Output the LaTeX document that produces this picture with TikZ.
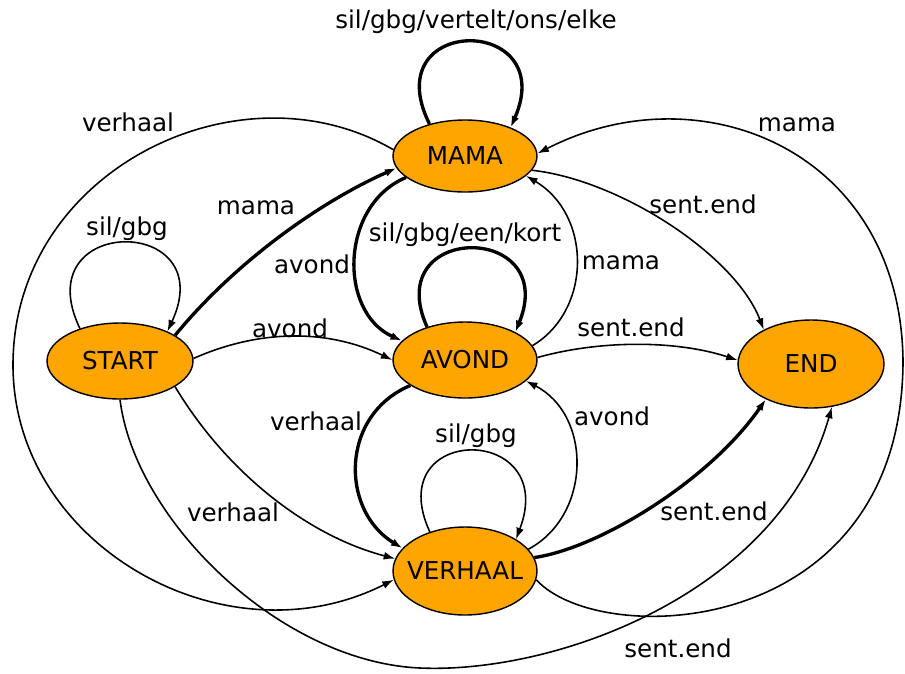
\documentclass[tikz,border=0pt]{standalone}
\usepackage{fontspec}
\setmainfont{DejaVu Sans}
\usetikzlibrary{arrows.meta, shapes.geometric}
\definecolor{c1}{HTML}{000000}
\definecolor{c2}{HTML}{FFA500}

\begin{document}
\begin{tikzpicture}[
    x=0.02cm, y=-0.02cm,
    every node/.style={font=\fontsize{14}{16}\selectfont},
    st/.style={ellipse, draw=c1, line width=0.8pt, fill=c2, inner xsep=-5pt,
        inner ysep=0pt, minimum width=2.88cm, minimum height=1.52cm},
    lab/.style={text=c1, inner sep=1pt},
    lnk/.style={draw=c1, line width=0.9pt, -{Latex[length=6.5pt, width=4.5pt]}},
    lnkb/.style={lnk, line width=1.9pt},
]
\useasboundingbox (0,0) rectangle (905,673);

% ---------------------------------------------------------------- states
\node[st, minimum height=1.44cm] (mama) at (465,156) {MAMA};
\node[st, minimum width=2.92cm] (start) at (120,361) {START};
\node[st] (avond) at (465,360) {AVOND};
\node[st, minimum width=2.92cm, minimum height=1.76cm] (einde) at (811,364) {END};
\node[st, minimum height=1.76cm] (verhaal) at (465,571) {VERHAAL};

% ---------------------------------------------------------------- self loops
\draw[lnkb] (mama.138) .. controls (375,14) and (560,14) .. (mama.32);
\draw[lnk] (start.141) .. controls (25,214) and (222,214) .. (start.32);
\draw[lnkb] (avond.139) .. controls (380,222) and (560,222) .. (avond.29);
\draw[lnk] (verhaal.132) .. controls (380,423) and (560,423) .. (verhaal.32);

\node[lab] (lmm) at (476,22) {sil/gbg/vertelt/ons/elke};
\node[lab] (lss) at (127,229) {sil/gbg};
\node[lab] (laa) at (465,235) {sil/gbg/een/kort};
\node[lab] (lvv) at (476,436) {sil/gbg};

% ---------------------------------------------------------------- from START
\draw[lnkb] (start.25) .. controls (237,260) and (322,201) .. (mama.190);
\draw[lnk] (start.2) .. controls (260,329) and (328,329) .. (avond.180);
\draw[lnk] (start.335) .. controls (225,470) and (305,535) .. (verhaal.170);
\draw[lnk] (start.270) .. controls (135,520) and (280,662) .. (420,668)
    .. controls (560,674) and (780,590) .. (einde.296);

\node[lab] (lsm) at (256,208) {mama};
\node[lab] (lsa) at (290,328) {avond};
\node[lab] (lsv) at (233,512) {verhaal};
\node[lab] (lse) at (678,648) {sent.end};

% ---------------------------------------------------------------- from MAMA
\draw[lnk] (mama.175) .. controls (240,60) and (13,170) .. (13,365)
    .. controls (13,545) and (225,665) .. (verhaal.187);
\draw[lnkb] (mama.200) .. controls (340,205) and (338,312) .. (avond.163);
\draw[lnk] (mama.348) .. controls (620,180) and (735,255) .. (einde.144);

\node[lab] (lmv) at (128,122) {verhaal};
\node[lab] (lma) at (312,264) {avond};
\node[lab] (lme) at (703,204) {sent.end};

% ---------------------------------------------------------------- from AVOND
\draw[lnk] (avond.12) .. controls (592,310) and (592,215) .. (mama.342);
\draw[lnk] (avond.2) .. controls (600,340) and (676,340) .. (einde.177);
\draw[lnkb] (avond.205) .. controls (340,415) and (340,510) .. (verhaal.160);

\node[lab] (lam) at (621,263) {mama};
\node[lab] (lae) at (631,327) {sent.end};
\node[lab] (lav) at (316,421) {verhaal};

% ---------------------------------------------------------------- from VERHAAL
\draw[lnk] (verhaal.19) .. controls (592,515) and (592,415) .. (avond.341);
\draw[lnkb] (verhaal.11) .. controls (600,548) and (710,480) .. (einde.218);
\draw[lnk] (verhaal.353) .. controls (600,650) and (903,640) .. (903,360)
    .. controls (900,150) and (700,70) .. (mama.2);

\node[lab] (lva) at (612,416) {avond};
\node[lab] (lve) at (714,511) {sent.end};
\node[lab] (lvm) at (797,125) {mama};

\end{tikzpicture}
\end{document}
